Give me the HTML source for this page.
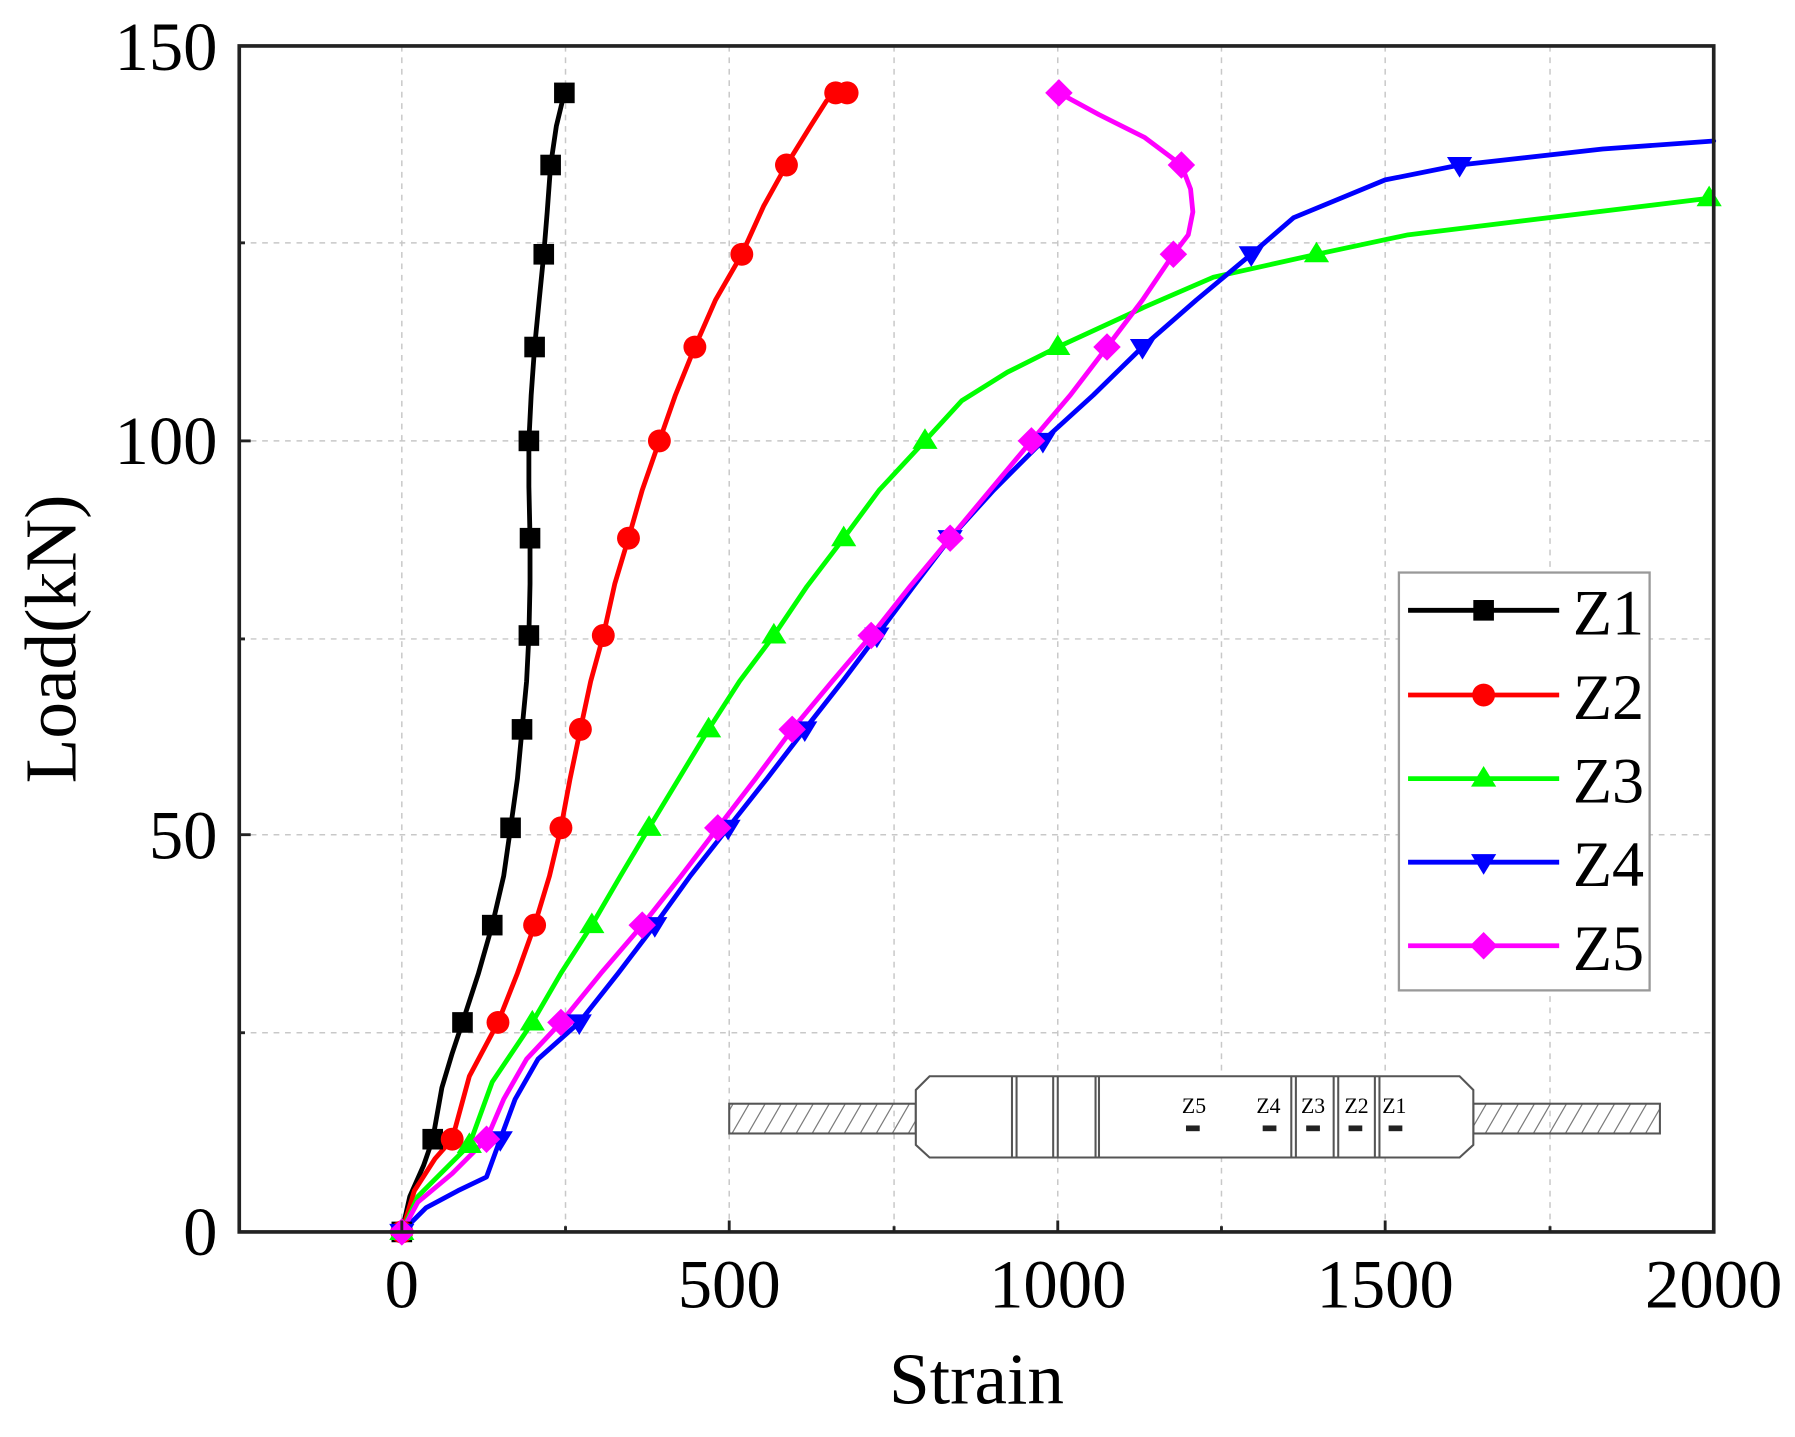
<!DOCTYPE html>
<html><head><meta charset="utf-8"><style>
html,body{margin:0;padding:0;background:#fff;}
svg{display:block;}
text{font-family:"Liberation Serif",serif;fill:#000;}
</style></head><body>
<svg width="1795" height="1437" viewBox="0 0 1568 1255" xmlns="http://www.w3.org/2000/svg">
<defs>
<pattern id="hatch" width="14" height="26" patternUnits="userSpaceOnUse" patternTransform="skewX(-30)">
<line x1="7" y1="0" x2="7" y2="26" stroke="#777" stroke-width="1.2"/>
</pattern>
</defs>
<rect width="1568" height="1255" fill="#fff"/>
<g stroke="#c8c8c8" stroke-width="1.3" stroke-dasharray="5,5">
<line x1="351" y1="40" x2="351" y2="1076"/><line x1="494" y1="40" x2="494" y2="1076"/>
<line x1="637" y1="40" x2="637" y2="1076"/><line x1="781" y1="40" x2="781" y2="1076"/>
<line x1="924" y1="40" x2="924" y2="1076"/><line x1="1067" y1="40" x2="1067" y2="1076"/>
<line x1="1210" y1="40" x2="1210" y2="1076"/><line x1="1354" y1="40" x2="1354" y2="1076"/>
<line x1="209" y1="902" x2="1497" y2="902"/><line x1="209" y1="729" x2="1497" y2="729"/>
<line x1="209" y1="558" x2="1497" y2="558"/><line x1="209" y1="385" x2="1497" y2="385"/>
<line x1="209" y1="212" x2="1497" y2="212"/>
</g>
<g stroke="#555" stroke-width="1.8" fill="#fff">
<rect x="637" y="964" width="163" height="26" fill="url(#hatch)"/>
<rect x="1287" y="964" width="163" height="26" fill="url(#hatch)"/>
<path d="M812,940 L1275,940 L1287,952 L1287,1000 L1275,1011 L812,1011 L800,1000 L800,952 Z"/>
<line x1="884" y1="940" x2="884" y2="1011"/><line x1="888" y1="940" x2="888" y2="1011"/>
<line x1="920" y1="940" x2="920" y2="1011"/><line x1="924" y1="940" x2="924" y2="1011"/>
<line x1="957" y1="940" x2="957" y2="1011"/><line x1="960" y1="940" x2="960" y2="1011"/>
<line x1="1128" y1="940" x2="1128" y2="1011"/><line x1="1132" y1="940" x2="1132" y2="1011"/>
<line x1="1165" y1="940" x2="1165" y2="1011"/><line x1="1169" y1="940" x2="1169" y2="1011"/>
<line x1="1201" y1="940" x2="1201" y2="1011"/><line x1="1205" y1="940" x2="1205" y2="1011"/>
</g>
<g fill="#222">
<rect x="1036" y="983" width="12" height="5"/><rect x="1103" y="983" width="12" height="5"/>
<rect x="1141" y="983" width="12" height="5"/><rect x="1178" y="983" width="12" height="5"/>
<rect x="1213" y="983" width="12" height="5"/>
</g>
<g font-size="19" text-anchor="middle" style="fill:#333">
<text x="1043" y="972">Z5</text><text x="1108" y="972">Z4</text><text x="1147" y="972">Z3</text><text x="1185" y="972">Z2</text><text x="1218" y="972">Z1</text>
</g>
<g fill="none" stroke-width="4.2" stroke-linejoin="round" stroke-linecap="round">
<polyline stroke="#000" points="351,1076 358,1045 370,1018 378,995 386,950 395,920 404,893 418,850 430,808 440,765 446,723 452,680 456,637 460,595 462,555 463,510 463,470 462,425 462,385 464,345 467,303 471,262 475,222 478,185 481,144 486,110 493,81"/>
<polyline stroke="#f00" points="351,1076 362,1040 380,1012 395,995 410,940 435,893 452,850 467,808 480,765 490,723 498,680 507,637 516,595 527,555 537,510 549,470 561,428 576,385 590,345 607,303 625,262 648,222 667,180 687,144 708,110 722,88 730,81 740,81"/>
<polyline stroke="#0f0" points="351,1076 365,1045 390,1020 410,1000 430,945 465,893 490,850 517,808 542,765 567,723 593,680 619,637 646,595 676,555 705,512 737,470 768,428 808,385 840,350 880,325 924,303 1000,268 1060,242 1150,222 1230,205 1493,173"/>
<polyline stroke="#00f" points="351,1076 372,1055 400,1040 425,1028 437,995 450,960 470,925 506,893 540,850 572,808 603,765 636,723 670,680 703,637 736,595 766,555 798,512 830,470 868,428 911,385 955,345 998,303 1045,262 1093,222 1130,190 1210,157 1275,144 1400,130 1497,123"/>
<polyline stroke="#f0f" points="351,1076 365,1050 395,1025 425,995 440,960 460,925 490,893 525,850 561,808 595,765 627,723 660,680 692,637 727,595 761,555 795,512 830,470 865,428 901,385 935,345 967,303 998,262 1025,222 1038,205 1042,185 1040,165 1032,144 1000,120 960,100 925,81"/>
</g>
<g fill="#000">
<rect x="342" y="1067" width="18" height="18"/><rect x="369" y="986" width="18" height="18"/><rect x="395" y="884" width="18" height="18"/>
<rect x="421" y="799" width="18" height="18"/><rect x="437" y="714" width="18" height="18"/><rect x="447" y="628" width="18" height="18"/>
<rect x="453" y="546" width="18" height="18"/><rect x="454" y="461" width="18" height="18"/><rect x="453" y="376" width="18" height="18"/>
<rect x="458" y="294" width="18" height="18"/><rect x="466" y="213" width="18" height="18"/><rect x="472" y="135" width="18" height="18"/>
<rect x="484" y="72" width="18" height="18"/>
</g>
<g fill="#f00">
<circle cx="351" cy="1076" r="10"/><circle cx="395" cy="995" r="10"/><circle cx="435" cy="893" r="10"/><circle cx="467" cy="808" r="10"/>
<circle cx="490" cy="723" r="10"/><circle cx="507" cy="637" r="10"/><circle cx="527" cy="555" r="10"/><circle cx="549" cy="470" r="10"/>
<circle cx="576" cy="385" r="10"/><circle cx="607" cy="303" r="10"/><circle cx="648" cy="222" r="10"/><circle cx="687" cy="144" r="10"/>
<circle cx="730" cy="81" r="10"/><circle cx="740" cy="81" r="10"/>
</g>
<g fill="#0f0">
<path d="M351,1065 l11,18 h-22z"/><path d="M410,989 l11,18 h-22z"/><path d="M465,882 l11,18 h-22z"/><path d="M517,797 l11,18 h-22z"/>
<path d="M567,712 l11,18 h-22z"/><path d="M619,626 l11,18 h-22z"/><path d="M676,544 l11,18 h-22z"/><path d="M737,459 l11,18 h-22z"/>
<path d="M808,374 l11,18 h-22z"/><path d="M924,292 l11,18 h-22z"/><path d="M1150,211 l11,18 h-22z"/><path d="M1493,162 l11,18 h-22z"/>
</g>
<g fill="#00f">
<path d="M351,1087 l11,-18 h-22z"/><path d="M437,1006 l11,-18 h-22z"/><path d="M506,904 l11,-18 h-22z"/><path d="M572,819 l11,-18 h-22z"/>
<path d="M636,734 l11,-18 h-22z"/><path d="M703,648 l11,-18 h-22z"/><path d="M766,566 l11,-18 h-22z"/><path d="M830,481 l11,-18 h-22z"/>
<path d="M911,396 l11,-18 h-22z"/><path d="M998,314 l11,-18 h-22z"/><path d="M1093,233 l11,-18 h-22z"/><path d="M1275,155 l11,-18 h-22z"/>
</g>
<g fill="#f0f">
<path d="M351,1064 l12,12 -12,12 -12,-12z"/><path d="M425,983 l12,12 -12,12 -12,-12z"/><path d="M490,881 l12,12 -12,12 -12,-12z"/>
<path d="M561,796 l12,12 -12,12 -12,-12z"/><path d="M627,711 l12,12 -12,12 -12,-12z"/><path d="M692,625 l12,12 -12,12 -12,-12z"/>
<path d="M761,543 l12,12 -12,12 -12,-12z"/><path d="M830,458 l12,12 -12,12 -12,-12z"/><path d="M901,373 l12,12 -12,12 -12,-12z"/>
<path d="M967,291 l12,12 -12,12 -12,-12z"/><path d="M1025,210 l12,12 -12,12 -12,-12z"/><path d="M1032,132 l12,12 -12,12 -12,-12z"/>
<path d="M925,69 l12,12 -12,12 -12,-12z"/>
</g>
<rect x="209" y="40" width="1288" height="1036" fill="none" stroke="#222" stroke-width="3.2"/>
<g stroke="#222" stroke-width="2.5">
<line x1="351" y1="1076" x2="351" y2="1066"/><line x1="494" y1="1076" x2="494" y2="1071"/><line x1="637" y1="1076" x2="637" y2="1066"/>
<line x1="781" y1="1076" x2="781" y2="1071"/><line x1="924" y1="1076" x2="924" y2="1066"/><line x1="1067" y1="1076" x2="1067" y2="1071"/>
<line x1="1210" y1="1076" x2="1210" y2="1066"/><line x1="1354" y1="1076" x2="1354" y2="1071"/>
<line x1="209" y1="902" x2="214" y2="902"/><line x1="209" y1="729" x2="219" y2="729"/><line x1="209" y1="558" x2="214" y2="558"/>
<line x1="209" y1="385" x2="219" y2="385"/><line x1="209" y1="212" x2="214" y2="212"/>
</g>
<g font-size="60" text-anchor="end">
<text x="190" y="61">150</text><text x="190" y="405">100</text><text x="190" y="750">50</text><text x="190" y="1096">0</text>
</g>
<g font-size="60" text-anchor="middle">
<text x="351" y="1142">0</text><text x="637" y="1142">500</text><text x="924" y="1142">1000</text>
<text x="1210" y="1142">1500</text><text x="1497" y="1142">2000</text>
</g>
<text x="853" y="1226" font-size="64" text-anchor="middle">Strain</text>
<text transform="translate(66,558) rotate(-90)" font-size="64" text-anchor="middle">Load(kN)</text>
<rect x="1222" y="500" width="219" height="365" fill="#fff" stroke="#999" stroke-width="2"/>
<g stroke-width="4.2">
<line x1="1230" y1="533" x2="1362" y2="533" stroke="#000"/>
<line x1="1230" y1="607" x2="1362" y2="607" stroke="#f00"/>
<line x1="1230" y1="680" x2="1362" y2="680" stroke="#0f0"/>
<line x1="1230" y1="753" x2="1362" y2="753" stroke="#00f"/>
<line x1="1230" y1="826" x2="1362" y2="826" stroke="#f0f"/>
</g>
<rect x="1287" y="524" width="18" height="18" fill="#000"/>
<circle cx="1296" cy="607" r="10" fill="#f00"/>
<path d="M1296,669 l11,18 h-22z" fill="#0f0"/>
<path d="M1296,764 l11,-18 h-22z" fill="#00f"/>
<path d="M1296,814 l12,12 -12,12 -12,-12z" fill="#f0f"/>
<g font-size="56">
<text x="1374" y="554">Z1</text><text x="1374" y="628">Z2</text><text x="1374" y="701">Z3</text>
<text x="1374" y="774">Z4</text><text x="1374" y="847">Z5</text>
</g>
</svg>
</body></html>
